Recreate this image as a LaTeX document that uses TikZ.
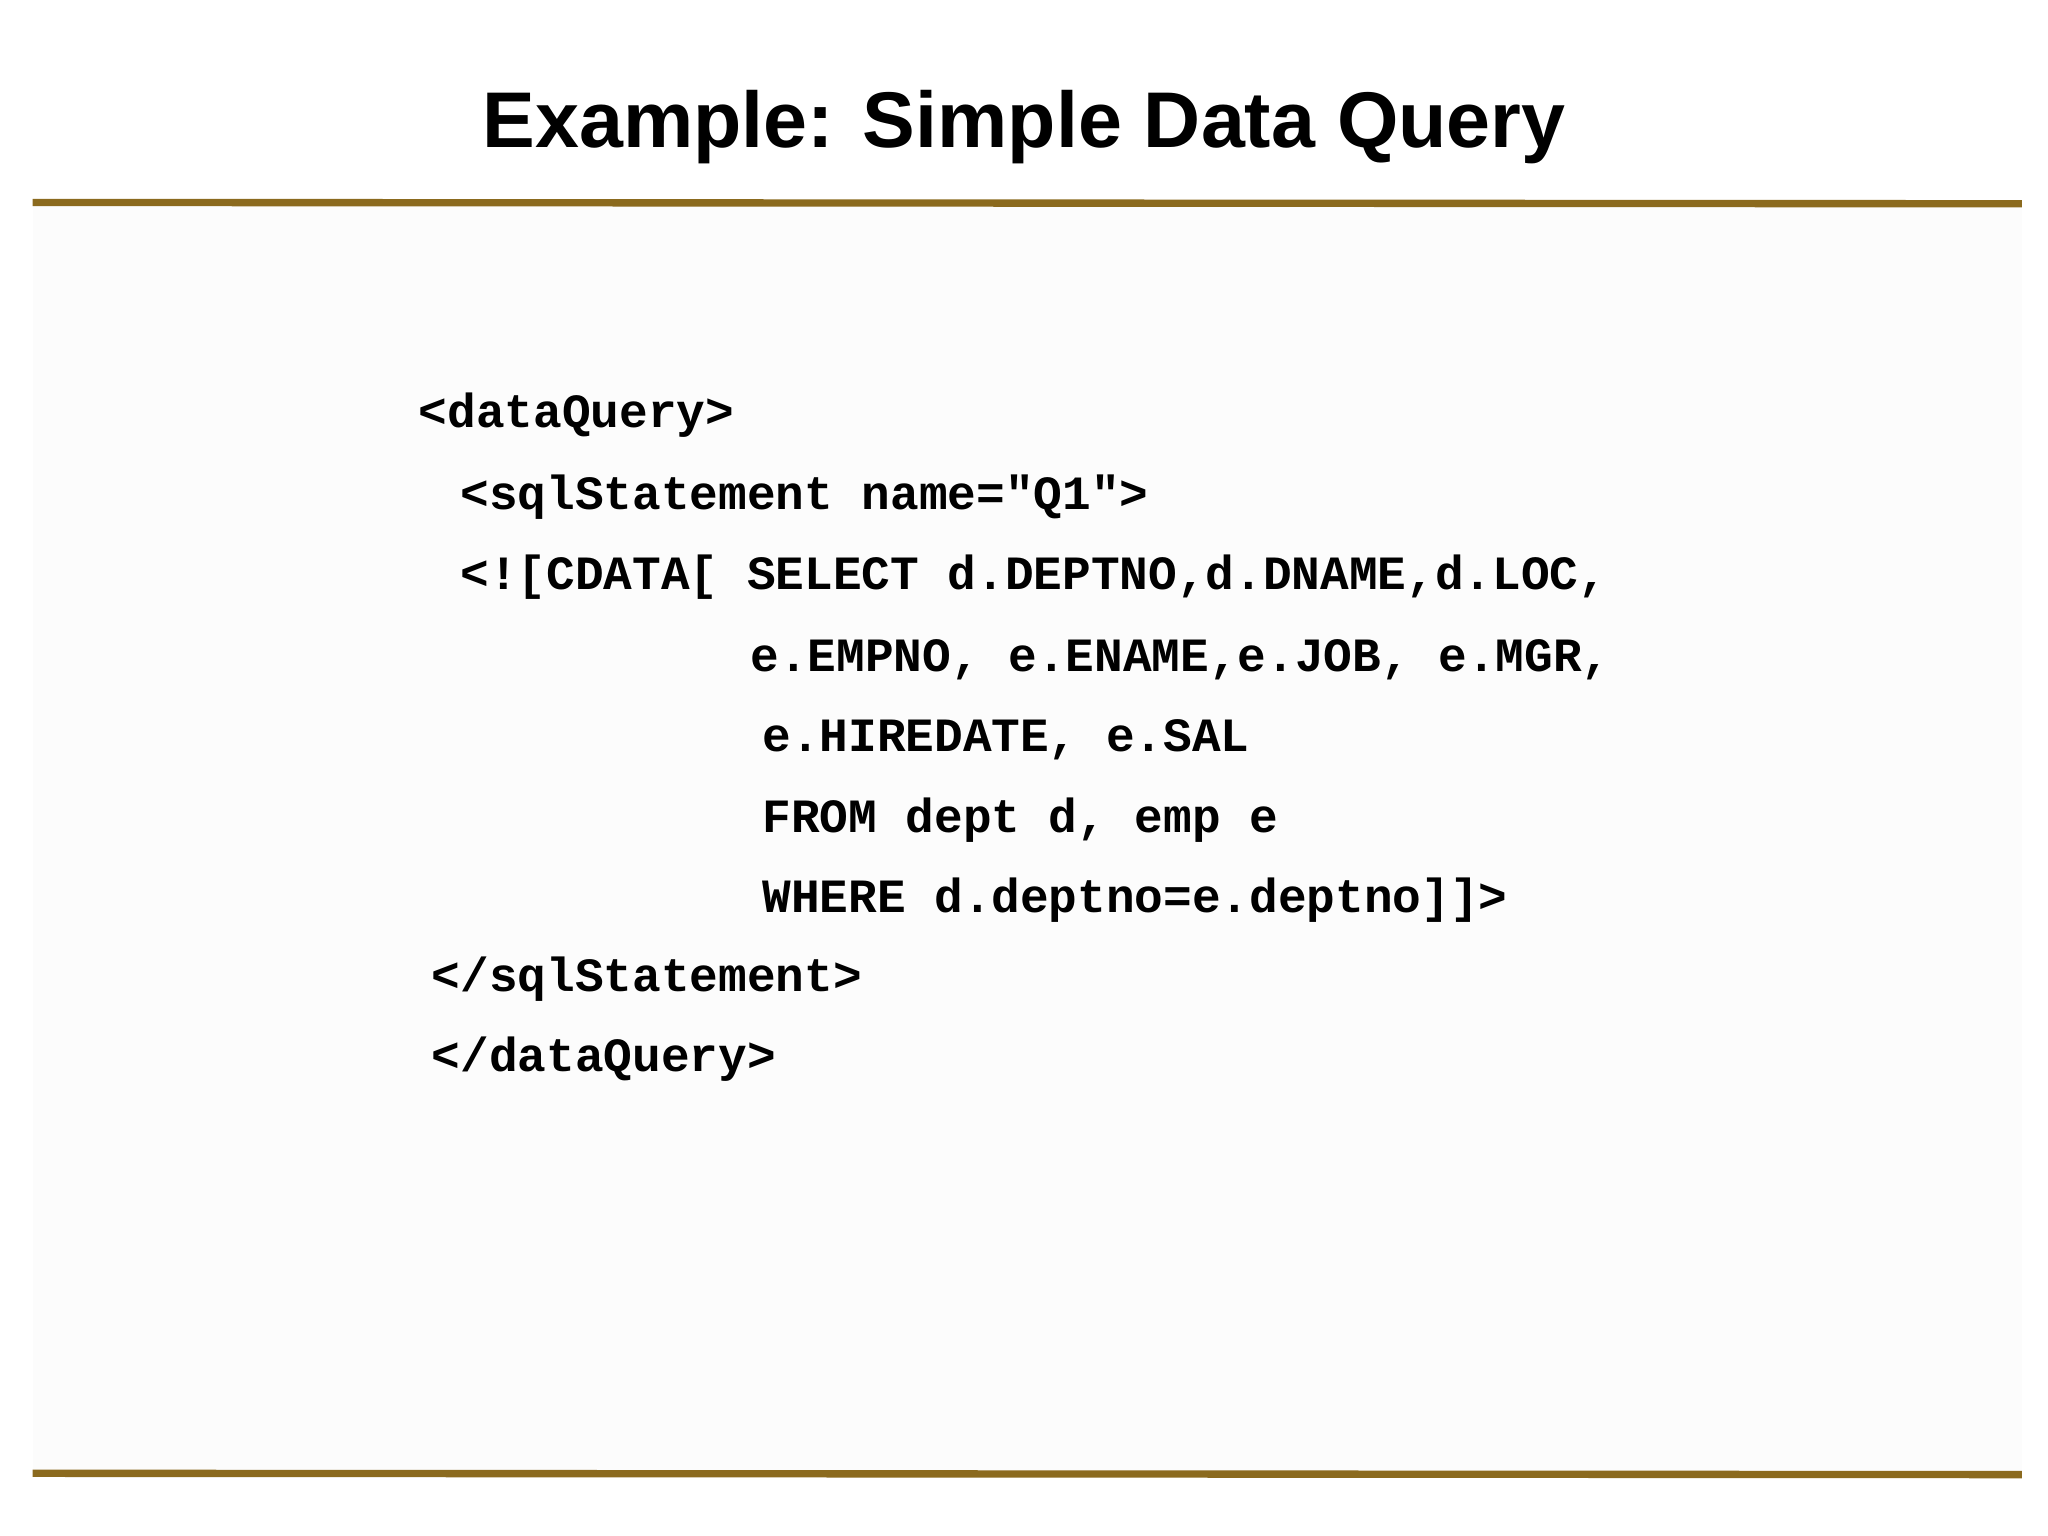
\documentclass[tikz,border=0pt]{standalone}
\usepackage{fontspec}
\setmainfont{Liberation Sans}
\newfontfamily\codefont{Liberation Mono}
\definecolor{rule}{HTML}{8B6A1E}
\begin{document}
\begin{tikzpicture}[x=0.01cm,y=-0.01cm,
  code/.style={anchor=west,inner sep=0pt,font=\codefont\bfseries\fontsize{10.4pt}{12pt}\selectfont},
  hline/.style={draw=rule,line width=1.6pt}]
\useasboundingbox (0,0) rectangle (1568,1176);
\fill[white] (0,0) rectangle (1568,1176);
\fill[black!1] (25,157) rectangle (1548,1127);
\node[font=\bfseries\fontsize{17.2pt}{20pt}\selectfont] (title) at (784,97) {Example: Simple Data Query};
\coordinate (t1) at (25,155); \coordinate (t2) at (1548,156);
\coordinate (b1) at (25,1128); \coordinate (b2) at (1548,1129);
\draw[hline] (t1) -- (t2);
\draw[hline] (b1) -- (b2);
\node[code] (l1) at (320,318) {<dataQuery>};
\node[code] (l2) at (352,381) {<sqlStatement name="Q1">};
\node[code] (l3) at (352,442) {<![CDATA[ SELECT d.DEPTNO,d.DNAME,d.LOC,};
\node[code] (l4) at (574,505) {e.EMPNO, e.ENAME,e.JOB, e.MGR,};
\node[code] (l5) at (583,566) {e.HIREDATE, e.SAL};
\node[code] (l6) at (583,628) {FROM dept d, emp e};
\node[code] (l7) at (583,689) {WHERE d.deptno=e.deptno]]>};
\node[code] (l8) at (330,750) {</sqlStatement>};
\node[code] (l9) at (330,811) {</dataQuery>};
\end{tikzpicture}
\end{document}
